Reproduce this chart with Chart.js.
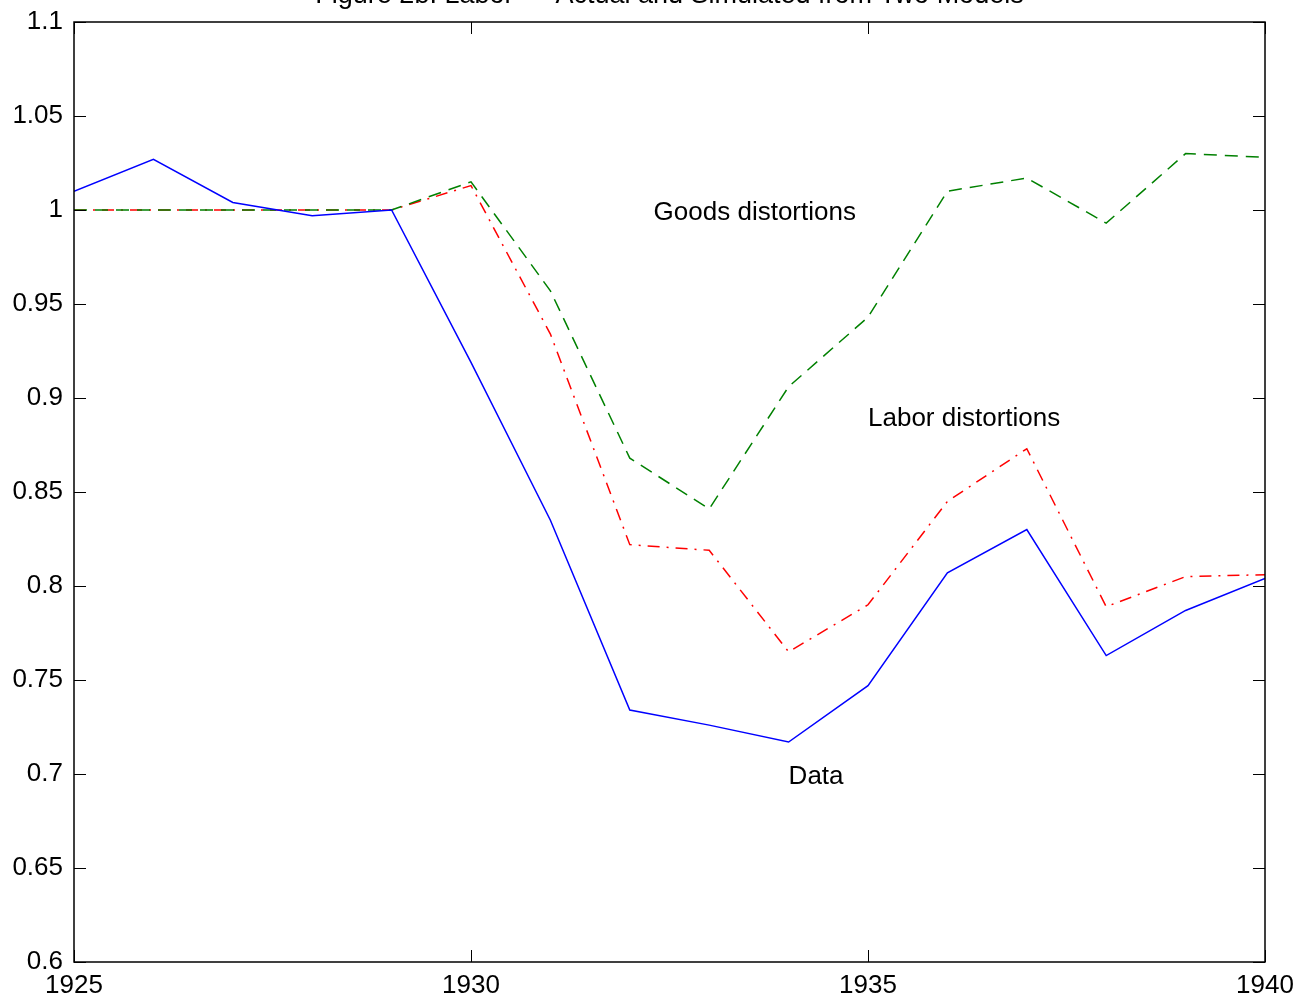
<!DOCTYPE html>
<html>
<head>
<meta charset="utf-8">
<title>Figure 2b. Labor</title>
<script src="https://cdn.jsdelivr.net/npm/chart.js@4.4.1/dist/chart.umd.min.js"></script>
<style>
  html, body { margin: 0; padding: 0; background: #fff; }
  canvas { display: block; }
</style>
</head>
<body>
<canvas id="chart" width="1301" height="1000"></canvas>
<script>
// Years and the three series (labor index, 1929 = 1)
const years = [1925, 1926, 1927, 1928, 1929, 1930, 1931, 1932, 1933, 1934, 1935, 1936, 1937, 1938, 1939, 1940];
const dataSeries = [1.010, 1.027, 1.004, 0.997, 1.000, 0.919, 0.835, 0.734, 0.726, 0.717, 0.747, 0.807, 0.830, 0.763, 0.787, 0.804];
const goodsSeries = [1.000, 1.000, 1.000, 1.000, 1.000, 1.015, 0.957, 0.868, 0.841, 0.906, 0.943, 1.010, 1.017, 0.993, 1.030, 1.028];
const laborSeries = [1.000, 1.000, 1.000, 1.000, 1.000, 1.013, 0.934, 0.822, 0.819, 0.765, 0.790, 0.845, 0.873, 0.789, 0.805, 0.806];

// Axis ticks
const xTicks = [1925, 1930, 1935, 1940];
const yTicks = [0.6, 0.65, 0.7, 0.75, 0.8, 0.85, 0.9, 0.95, 1.0, 1.05, 1.1];
const yTickLabels = ['0.6', '0.65', '0.7', '0.75', '0.8', '0.85', '0.9', '0.95', '1', '1.05', '1.1'];

// In-plot text labels: [text, year, value]
const curveLabels = [
  ['Goods distortions', 1932.3, 0.9985],
  ['Labor distortions', 1935.0, 0.889],
  ['Data', 1934.0, 0.6985],
];

const titleText = 'Figure 2b. Labor \u2014 Actual and Simulated from Two Models';
const FONT = '"Liberation Sans", Arial, Helvetica, sans-serif';

const toPoints = (vals) => vals.map((v, i) => ({ x: years[i], y: v }));

// Box, inward tick marks, curve labels and the (clipped) title
const frame = {
  id: 'frame',
  afterDraw(chart) {
    const { ctx, chartArea: a } = chart;
    const sx = chart.scales.x, sy = chart.scales.y;
    const len = 12;
    ctx.save();
    ctx.strokeStyle = '#000';
    ctx.lineWidth = 1.5;
    ctx.strokeRect(a.left, a.top, a.right - a.left, a.bottom - a.top);
    ctx.beginPath();
    yTicks.forEach((v) => {
      const py = Math.round(sy.getPixelForValue(v)) + 0.5;
      ctx.moveTo(a.left, py); ctx.lineTo(a.left + len, py);
      ctx.moveTo(a.right, py); ctx.lineTo(a.right - len, py);
    });
    xTicks.forEach((v) => {
      const px = Math.round(sx.getPixelForValue(v)) + 0.5;
      ctx.moveTo(px, a.bottom); ctx.lineTo(px, a.bottom - len);
      ctx.moveTo(px, a.top); ctx.lineTo(px, a.top + len);
    });
    ctx.lineWidth = 1;
    ctx.stroke();

    ctx.fillStyle = '#000';
    ctx.font = '26px ' + FONT;
    ctx.textAlign = 'left';
    ctx.textBaseline = 'middle';
    curveLabels.forEach(([t, x, y]) => {
      ctx.fillText(t, sx.getPixelForValue(x), sy.getPixelForValue(y));
    });

    ctx.font = '27px ' + FONT;
    ctx.textAlign = 'center';
    ctx.textBaseline = 'alphabetic';
    ctx.fillText(titleText, (a.left + a.right) / 2, 3);
    ctx.restore();
  },
};

new Chart(document.getElementById('chart'), {
  type: 'line',
  data: {
    datasets: [
      {
        label: 'Data',
        data: toPoints(dataSeries),
        borderColor: '#0000ff',
        borderWidth: 1.5,
      },
      {
        label: 'Goods distortions',
        data: toPoints(goodsSeries),
        borderColor: '#008000',
        borderWidth: 1.5,
        borderDash: [13, 8],
      },
      {
        label: 'Labor distortions',
        data: toPoints(laborSeries),
        borderColor: '#ff0000',
        borderWidth: 1.5,
        borderDash: [12, 7, 2, 7],
      },
    ],
  },
  options: {
    responsive: false,
    animation: false,
    events: [],
    elements: { point: { radius: 0 }, line: { tension: 0 } },
    layout: { padding: { top: 22, right: 36, left: 0, bottom: 0 } },
    plugins: { legend: { display: false }, tooltip: { enabled: false }, title: { display: false } },
    scales: {
      x: {
        type: 'linear',
        min: 1925,
        max: 1940,
        afterBuildTicks: (s) => { s.ticks = xTicks.map((v) => ({ value: v })); },
        afterFit: (s) => { s.height = 38; s.paddingLeft = 0; s.paddingRight = 0; },
        grid: { display: false, drawTicks: false },
        border: { display: false },
        ticks: {
          color: '#000',
          font: { family: FONT, size: 26 },
          padding: 8,
          maxRotation: 0,
          callback: (v) => String(v),
        },
      },
      y: {
        min: 0.6,
        max: 1.1,
        afterBuildTicks: (s) => { s.ticks = yTicks.map((v) => ({ value: v })); },
        afterFit: (s) => { s.width = 74; s.paddingTop = 0; s.paddingBottom = 0; },
        grid: { display: false, drawTicks: false },
        border: { display: false },
        ticks: {
          color: '#000',
          font: { family: FONT, size: 26 },
          padding: 11,
          callback: (v, i) => yTickLabels[i],
        },
      },
    },
  },
  plugins: [frame],
});
</script>
</body>
</html>
